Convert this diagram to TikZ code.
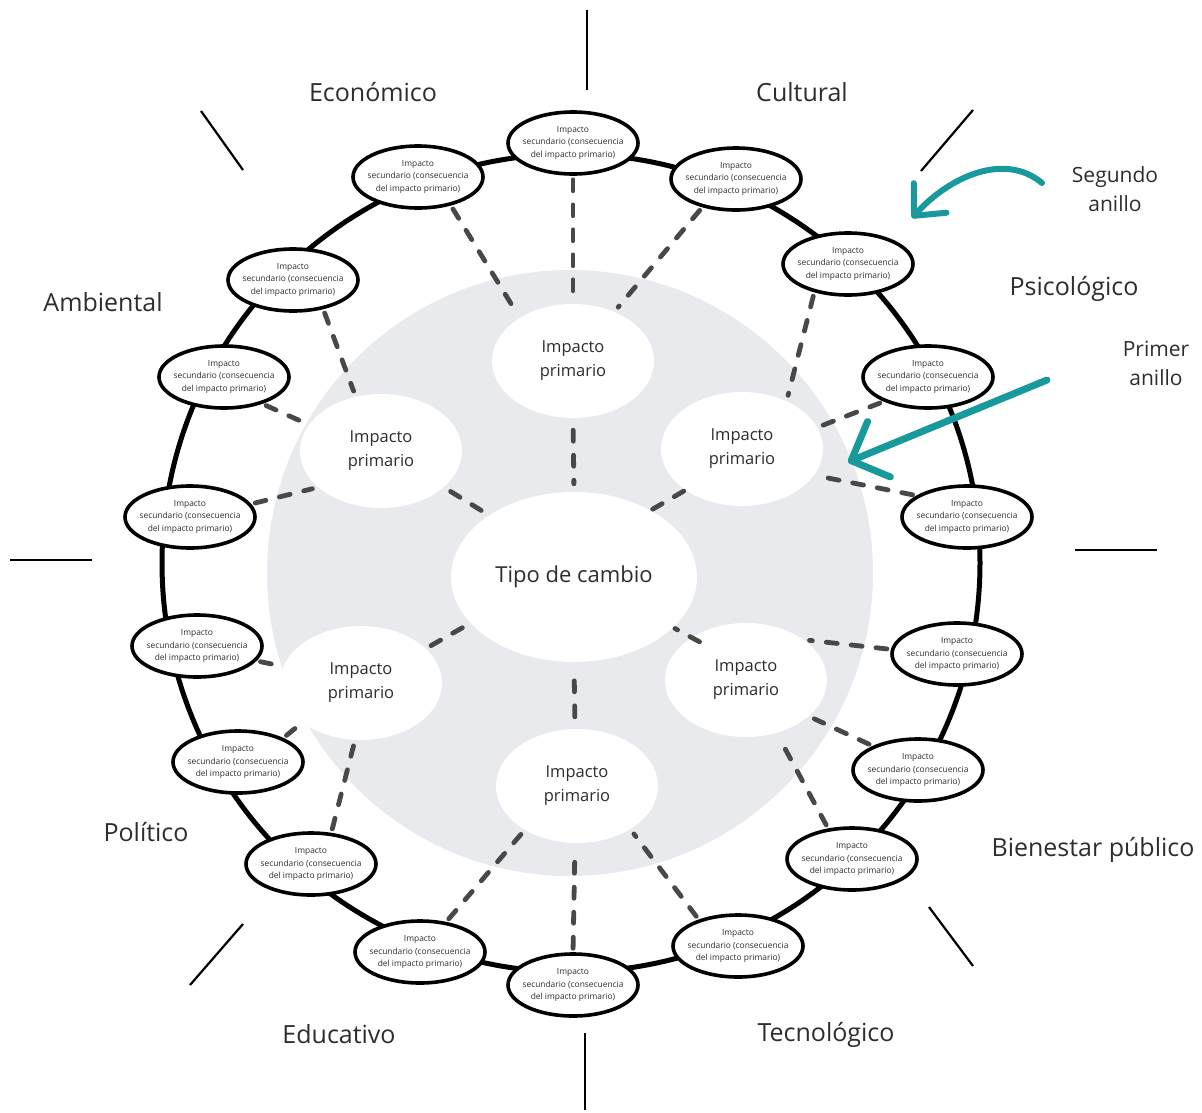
\documentclass[tikz,border=0pt]{standalone}
\usepackage{fontspec}
\setmainfont{Open Sans}
\usetikzlibrary{shapes.geometric, arrows.meta}
\definecolor{discgrey}{RGB}{232,234,237}
\definecolor{dashgrey}{RGB}{72,72,72}
\definecolor{tealmark}{RGB}{24,153,155}
\definecolor{inktext}{RGB}{45,45,45}
\newcommand{\sectext}{Impacto\\secundario (consecuencia\\del impacto primario)}

\begin{document}
\begin{tikzpicture}[
    x=1pt, y=-1pt,
    secbox/.style={draw, ellipse, line width=3.6pt, fill=white, minimum width=130pt, minimum height=62pt, inner xsep=-8pt, inner ysep=0pt, align=center, text=inktext, font=\fontsize{8.4}{12.4}\selectfont},
    primbox/.style={ellipse, fill=white, minimum width=162pt, minimum height=114pt, align=center, text=inktext, font=\fontsize{16.5}{24}\selectfont},
    corebox/.style={ellipse, fill=white, minimum width=246pt, minimum height=170pt, text=inktext, font=\fontsize{22}{26}\selectfont},
    areaname/.style={text=inktext, font=\fontsize{25}{30}\selectfont},
    ringnote/.style={align=center, text=inktext, font=\fontsize{21}{29}\selectfont},
    link/.style={draw=dashgrey, line width=4.8pt, line cap=round, dash pattern=on 11pt off 14pt, shorten <=4pt, shorten >=6pt},
    spoke/.style={line width=2.2pt},
    marker/.style={draw=tealmark, line width=6pt, line cap=round, -{Straight Barb[length=24pt, width=44pt, round]}}
]
\useasboundingbox (0,0) rectangle (1202,1112);

% Background disc and outer ring
\fill[discgrey] (570,573) circle[radius=303];
\draw[line width=5pt] (571,563) circle[radius=409];

% Spokes between the areas
\draw[spoke] (587,10) -- (587,90);
\draw[spoke] (585,1033) -- (585,1110);
\draw[spoke] (10,560) -- (92,560);
\draw[spoke] (1075,550) -- (1157,550);
\draw[spoke] (201,111) -- (243,170);
\draw[spoke] (973,110) -- (921,171);
\draw[spoke] (243,924) -- (190,985);
\draw[spoke] (929,907) -- (973,966);

% Second ring: secondary impacts (clockwise from top)
\node[secbox] (S1) at (573,143) {\sectext};
\node[secbox] (S2) at (736,179) {\sectext};
\node[secbox] (S3) at (848,264) {\sectext};
\node[secbox] (S4) at (928,377) {\sectext};
\node[secbox] (S5) at (967,517) {\sectext};
\node[secbox] (S6) at (957,654) {\sectext};
\node[secbox] (S7) at (918,770) {\sectext};
\node[secbox] (S8) at (852,859) {\sectext};
\node[secbox] (S9) at (738,946) {\sectext};
\node[secbox] (S10) at (573,985) {\sectext};
\node[secbox] (S11) at (420,952) {\sectext};
\node[secbox] (S12) at (311,864) {\sectext};
\node[secbox] (S13) at (238,762) {\sectext};
\node[secbox] (S14) at (197,646) {\sectext};
\node[secbox] (S15) at (190,517) {\sectext};
\node[secbox] (S16) at (224,377) {\sectext};
\node[secbox] (S17) at (293,280) {\sectext};
\node[secbox] (S18) at (418,177) {\sectext};

% First ring: primary impacts
\node[primbox] (P1) at (573,361) {Impacto\\primario};
\node[primbox] (P2) at (381,451) {Impacto\\primario};
\node[primbox] (P3) at (742,449) {Impacto\\primario};
\node[primbox] (P4) at (746,680) {Impacto\\primario};
\node[primbox] (P5) at (577,786) {Impacto\\primario};
\node[primbox] (P6) at (361,683) {Impacto\\primario};

% Centre
\node[corebox] (T) at (574,577) {Tipo de cambio};

% Centre to first ring
\draw[link, shorten <=12pt, shorten >=8pt] (P1.-90) -- (T.90);
\draw[link, shorten <=8pt, shorten >=6pt] (P2.-30) -- (T.144);
\draw[link, shorten <=2pt, shorten >=2pt] (P3.216) -- (T.41);
\draw[link, shorten <=6pt, shorten >=6pt] (P6.28) -- (T.204);
\draw[link, shorten <=-9pt, shorten >=2pt] (P4.142) -- (T.-27);
\draw[link, shorten <=12pt, shorten >=8pt] (P5.92) -- (T.-90);

% First ring to second ring
\draw[link] (S1.-90) -- (P1.90);
\draw[link] (S18.-41) -- (P1.141);
\draw[link] (S2.-140) -- (P1.50);
\draw[link] (S17.-44) -- (P2.115);
\draw[link] (S16.-35) -- (P2.160);
\draw[link] (S15.12) -- (P2.210);
\draw[link] (S3.-140) -- (P3.47);
\draw[link] (S4.-151) -- (P3.16);
\draw[link] (S5.157) -- (P3.-20);
\draw[link] (S6.176) -- (P4.35);
\draw[link] (S7.152) -- (P4.-30);
\draw[link] (S8.128) -- (P4.-60);
\draw[link] (S9.146) -- (P5.-39);
\draw[link] (S10.90) -- (P5.-92);
\draw[link] (S11.49) -- (P5.-140);
\draw[link] (S14.-14) -- (P6.168);
\draw[link] (S13.28) -- (P6.-146);
\draw[link] (S12.57) -- (P6.-96);

% Area labels
\node[areaname] (econ) at (373,92) {Económico};
\node[areaname] (cult) at (802,92) {Cultural};
\node[areaname] (psic) at (1074,289) {Psicológico};
\node[areaname] (amb) at (103,302) {Ambiental};
\node[areaname] (pol) at (146,832) {Político};
\node[areaname] (bien) at (1093,850) {Bienestar público};
\node[areaname] (edu) at (339,1034) {Educativo};
\node[areaname] (tec) at (826,1035) {Tecnológico};

% Ring notes with teal markers
\node[ringnote] (seg) at (1115,189) {Segundo\\anillo};
\node[ringnote] (prim) at (1156,363) {Primer\\anillo};
\coordinate (segA) at (1042,183);
\coordinate (segB) at (912,218);
\coordinate (primA) at (1047,380);
\coordinate (primB) at (848,462);
\draw[marker] (segA) .. controls (1005,152) and (950,176) .. (segB);
\draw[marker, line width=7pt, -{Straight Barb[length=30pt, width=60pt, round]}] (primA) -- (primB);

\end{tikzpicture}
\end{document}
